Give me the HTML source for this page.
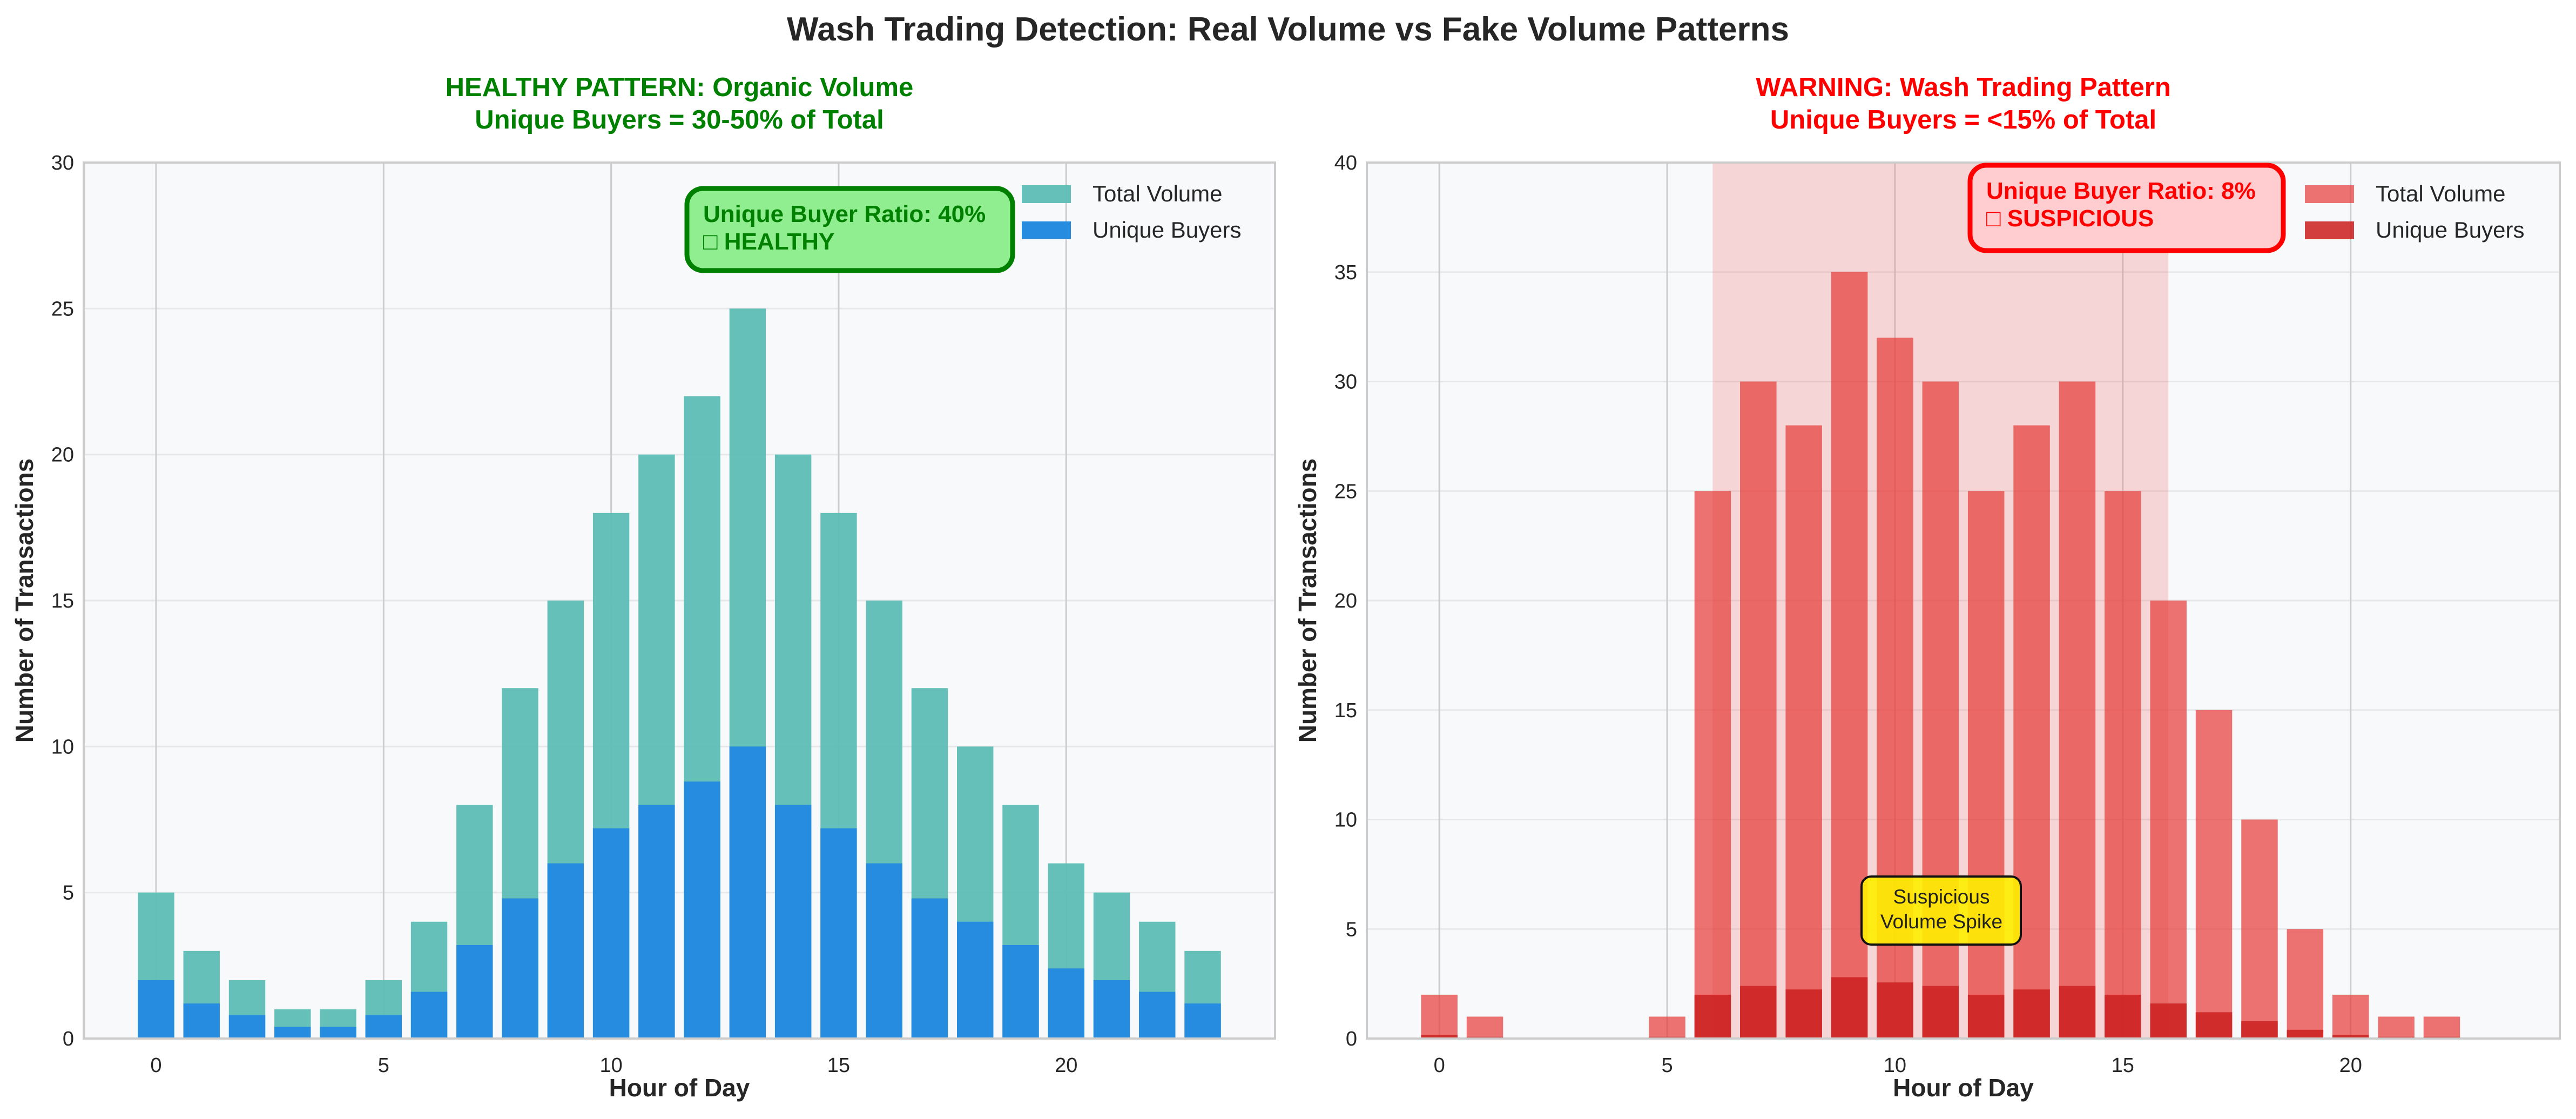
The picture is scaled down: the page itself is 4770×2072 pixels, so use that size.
<!DOCTYPE html>
<html><head><meta charset="utf-8"><style>
html,body{margin:0;padding:0;background:#fff;}
svg{display:block;font-family:"Liberation Sans",sans-serif;}
</style></head><body>
<svg id="fig" width="4770" height="2072" viewBox="0 0 4770 2072" xmlns="http://www.w3.org/2000/svg">
<text x="2385" y="75" text-anchor="middle" font-size="62" font-weight="bold" fill="#262626">Wash Trading Detection: Real Volume vs Fake Volume Patterns</text>
<g id="left"></g>
<g id="right"></g>
</svg>
<script>
const hours = [0,1,2,3,4,5,6,7,8,9,10,11,12,13,14,15,16,17,18,19,20,21,22,23];
const healthyTotal = [5,3,2,1,1,2,4,8,12,15,18,20,22,25,20,18,15,12,10,8,6,5,4,3];
const healthyUnique = [2,1.2,0.8,0.4,0.4,0.8,1.6,3.2,4.8,6,7.2,8,8.8,10,8,7.2,6,4.8,4,3.2,2.4,2,1.6,1.2];
const washTotal = [2,1,0,0,0,1,25,30,28,35,32,30,25,28,30,25,20,15,10,5,2,1,1,0];
const washUnique = [0.16,0.08,0,0,0,0.08,2,2.4,2.24,2.8,2.56,2.4,2,2.24,2.4,2,1.6,1.2,0.8,0.4,0.16,0.08,0.08,0];
const xTicks = [0,5,10,15,20];
const leftYTicks = [0,5,10,15,20,25,30];
const rightYTicks = [0,5,10,15,20,25,30,35,40];
const spikeRange = [6,16];

const NS='http://www.w3.org/2000/svg';
function mk(parent,tag,attrs,text){const e=document.createElementNS(NS,tag);for(const k in attrs)e.setAttribute(k,attrs[k]);if(text!==undefined)e.textContent=text;parent.appendChild(e);return e;}

function panel(g,cfg){
  const L=cfg.left,R=cfg.right,T=301,B=1923;
  const x=v=>L+(v+1.59)/(26.18)*(R-L);
  const y=v=>B-v/cfg.ymax*(B-T);
  const bg=mk(g,'rect',{x:L,y:T,width:R-L,height:B-T,fill:'#f8f9fa'});
  
  
  cfg.yticks.forEach(t=>{
    const ln=mk(g,'line',{x1:L,x2:R,y1:y(t),y2:y(t),stroke:'#e6e7e9','stroke-width':3});
    
    
    const tl=mk(g,'text',{x:L-18,y:y(t)+13,'text-anchor':'end','font-size':38,fill:'#262626'},String(t));
    
    
  });
  xTicks.forEach(t=>{
    const ln=mk(g,'line',{x1:x(t),x2:x(t),y1:T,y2:B,stroke:'#cbcdd0','stroke-width':3});
    
    
    const tl=mk(g,'text',{x:x(t),y:B+62,'text-anchor':'middle','font-size':38,fill:'#262626'},String(t));
    
    
  });
  if(cfg.spike){
    const s=mk(g,'rect',{x:x(spikeRange[0]),y:T,width:x(spikeRange[1])-x(spikeRange[0]),height:B-T,fill:'#f08080','fill-opacity':0.3});
    
    
  }
  const bw=(x(0.8)-x(0));
  hours.forEach((h,i)=>{
    if(cfg.total[i]>0){
      const b=mk(g,'rect',{x:x(h)-bw/2,y:y(cfg.total[i]),width:bw,height:y(0)-y(cfg.total[i]),fill:cfg.c1,'fill-opacity':cfg.o1});
      
      
    }
    if(cfg.uniq[i]>0){
      const b=mk(g,'rect',{x:x(h)-bw/2,y:y(cfg.uniq[i]),width:bw,height:y(0)-y(cfg.uniq[i]),fill:cfg.c2,'fill-opacity':cfg.o2});
      
      
    }
  });
  const fr=mk(g,'rect',{x:L,y:T,width:R-L,height:B-T,fill:'none',stroke:'#cccccc','stroke-width':4});
  
  
  const cx=(L+R)/2;
  const t1=mk(g,'text',{x:cx,y:178,'text-anchor':'middle','font-size':49,'font-weight':'bold',fill:cfg.tc},cfg.t1);
  
  
  const t2=mk(g,'text',{x:cx,y:238,'text-anchor':'middle','font-size':49,'font-weight':'bold',fill:cfg.tc},cfg.t2);
  
  
  const xl=mk(g,'text',{x:cx,y:2030,'text-anchor':'middle','font-size':46,'font-weight':'bold',fill:'#262626'},'Hour of Day');
  
  
  const yx=cfg.left-94;
  const yl=mk(g,'text',{x:yx,y:(T+B)/2,'text-anchor':'middle','font-size':46,'font-weight':'bold',fill:'#262626',transform:`rotate(-90 ${yx} ${(T+B)/2})`},'Number of Transactions');
  
  
  const a=cfg.ann;
  const ab=mk(g,'rect',{x:a.x,y:a.y,width:a.w,height:a.h,rx:30,fill:a.fill,stroke:a.stroke,'stroke-width':9});
  
  
  const at1=mk(g,'text',{x:a.x+30,y:a.y+62,'font-size':44,'font-weight':'bold',fill:a.stroke},a.l1);
  
  
  const at2=mk(g,'text',{x:a.x+30,y:a.y+113,'font-size':44,'font-weight':'bold',fill:a.stroke},a.l2);
  
  
  const lx=cfg.legX;
  [[cfg.c1,cfg.o1,'Total Volume',359],[cfg.c2,cfg.o2,'Unique Buyers',426]].forEach(e=>{
    const p=mk(g,'rect',{x:lx,y:e[3]-16,width:91,height:33,fill:e[0],'fill-opacity':e[1]});
    
    
    const t=mk(g,'text',{x:lx+131,y:e[3]+14,'font-size':42,fill:'#262626'},e[2]);
    
    
  });
  return {x,y};
}

panel(document.getElementById('left'),{left:155,right:2361,ymax:30,yticks:leftYTicks,total:healthyTotal,uniq:healthyUnique,
  c1:'#5cbdb4',o1:0.95,c2:'#268ce0',o2:1,tc:'#008000',t1:'HEALTHY PATTERN: Organic Volume',t2:'Unique Buyers = 30-50% of Total',
  ann:{x:1272,y:349,w:603,h:152,fill:'#90ee90',stroke:'#008000',l1:'Unique Buyer Ratio: 40%',l2:'\u25A1 HEALTHY'},legX:1892});

panel(document.getElementById('right'),{left:2531,right:4740,ymax:40,yticks:rightYTicks,total:washTotal,uniq:washUnique,
  c1:'#e53935',o1:0.7,c2:'#cc2222',o2:0.88,tc:'#ff0000',t1:'WARNING: Wash Trading Pattern',t2:'Unique Buyers = <15% of Total',spike:true,
  ann:{x:3648,y:306,w:580,h:158,fill:'#ffcccf',stroke:'#ff0000',l1:'Unique Buyer Ratio: 8%',l2:'\u25A1 SUSPICIOUS'},legX:4268});

const rg=document.getElementById('right');
const sb=mk(rg,'rect',{x:3447,y:1623,width:295,height:126,rx:18,fill:'#ffee00','fill-opacity':0.9,stroke:'#111','stroke-width':4});


const s1=mk(rg,'text',{x:3595,y:1673,'text-anchor':'middle','font-size':37,fill:'#222'},'Suspicious');


const s2=mk(rg,'text',{x:3595,y:1719,'text-anchor':'middle','font-size':37,fill:'#222'},'Volume Spike');


</script>
</body></html>
